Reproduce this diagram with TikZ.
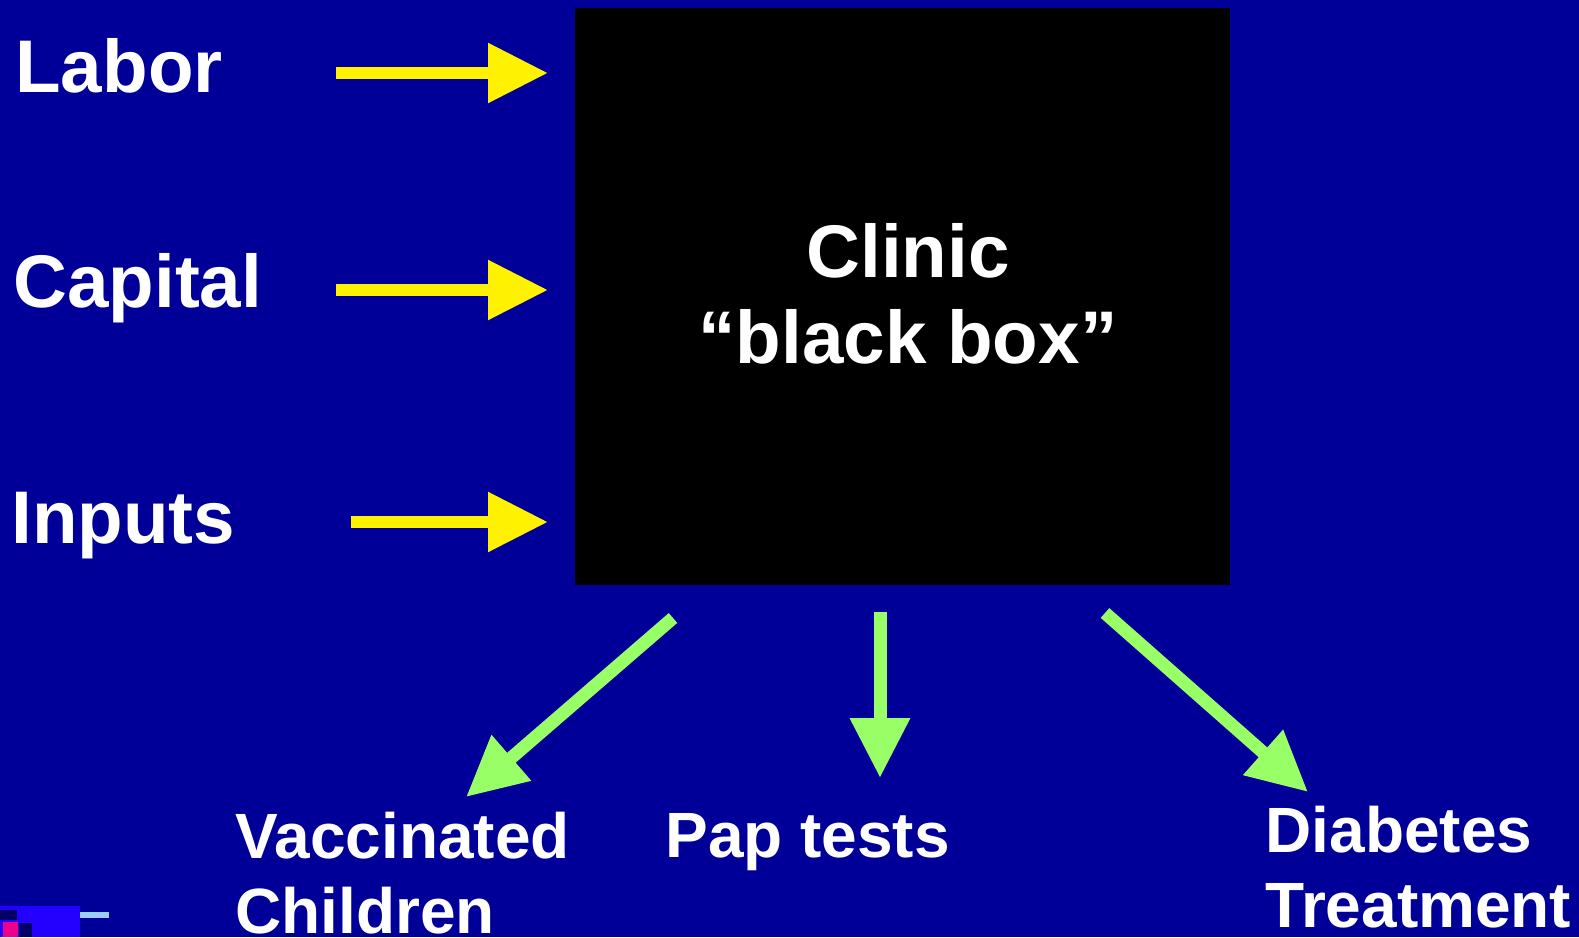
\documentclass[tikz,border=0pt]{standalone}
\usepackage{fontspec}
\setmainfont{Liberation Sans}
\usetikzlibrary{arrows.meta}
\definecolor{slideblue}{RGB}{0,0,153}
\definecolor{arrowgreen}{RGB}{153,255,102}
\definecolor{brightblue}{RGB}{36,0,255}
\definecolor{darknavy}{RGB}{0,0,102}
\definecolor{paleblue}{RGB}{153,204,255}
\tikzset{
	inlabel/.style={anchor=base west,inner sep=0pt,text=white,font=\bfseries\fontsize{37.3}{44}\selectfont},
	outlabel/.style={anchor=base west,inner sep=0pt,text=white,align=left,font=\bfseries\fontsize{32}{37.5}\selectfont},
	inarrow/.style={color=yellow,line width=6pt,-{Triangle[length=30pt,width=28.5pt]}},
	outarrow/.style={color=arrowgreen,line width=6.5pt,-{Triangle[length=30pt,width=28.5pt]}}
}

\begin{document}
\begin{tikzpicture}[x=0.5pt,y=-0.5pt]
	\fill[slideblue] (0,0) rectangle (1579,937);
	\useasboundingbox (0,0) rectangle (1579,937);
	% corner marks
	\fill[brightblue] (0,906) rectangle (80,937);
	\fill[darknavy] (0,910) rectangle (17,920);
	\fill[magenta] (3,922) rectangle (18,937);
	\fill[darknavy] (19,923) rectangle (32,937);
	\fill[paleblue] (80,912) rectangle (109,918);
	% the clinic
	\node[fill=black,minimum width=327.5pt,minimum height=288.5pt,inner sep=0pt] (clinic) at (902.5,296.5) {};
	\node[anchor=base,inner sep=0pt,align=center,text=white,
		font=\bfseries\fontsize{37.3}{43}\selectfont] (clinic-text) at (908,363) {Clinic\\``black box''};
	\node[inlabel] (labor) at (15,92) {Labor};
	\node[inlabel] (capital) at (13,307) {Capital};
	\node[inlabel] (inputs) at (11,543) {Inputs};
	\node[outlabel] (vacc) at (235,933) {Vaccinated\\Children};
	\node[outlabel] (pap) at (665,857) {Pap tests};
	\node[outlabel] (diab) at (1265,927) {Diabetes\\Treatment};
	\coordinate (labor-a) at (336,73);   \coordinate (labor-b) at (548,73);
	\coordinate (capital-a) at (336,290); \coordinate (capital-b) at (548,290);
	\coordinate (inputs-a) at (351,522); \coordinate (inputs-b) at (548,522);
	\coordinate (vacc-a) at (673,618);   \coordinate (vacc-b) at (466,797);
	\coordinate (pap-a) at (880,612);    \coordinate (pap-b) at (880,778);
	\coordinate (diab-a) at (1105,613);  \coordinate (diab-b) at (1308,792);
	\draw[inarrow] (labor-a) -- (labor-b);
	\draw[inarrow] (capital-a) -- (capital-b);
	\draw[inarrow] (inputs-a) -- (inputs-b);
	\draw[outarrow] (vacc-a) -- (vacc-b);
	\draw[outarrow] (pap-a) -- (pap-b);
	\draw[outarrow] (diab-a) -- (diab-b);
\end{tikzpicture}
\end{document}
